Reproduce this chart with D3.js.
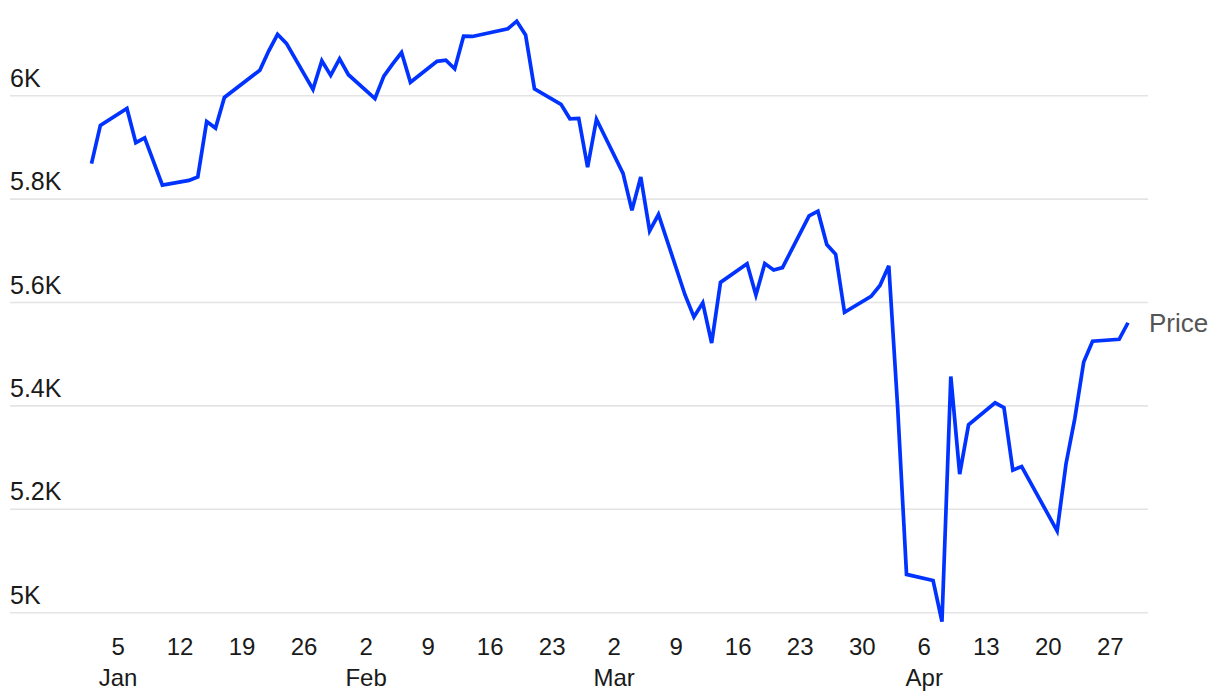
<!DOCTYPE html>
<html>
<head>
<meta charset="utf-8">
<script src="https://cdn.jsdelivr.net/npm/d3@7"></script>
<style>
  html, body { margin: 0; padding: 0; background: #ffffff; }
  svg { display: block; }
  text { font-family: "Liberation Sans", Arial, Helvetica, sans-serif; }
</style>
</head>
<body>
<svg id="chart" width="1220" height="700"></svg>
<script>
// ---- data ----
const dates = [
  "2025-01-02","2025-01-03","2025-01-06","2025-01-07","2025-01-08","2025-01-10",
  "2025-01-13","2025-01-14","2025-01-15","2025-01-16","2025-01-17","2025-01-21",
  "2025-01-22","2025-01-23","2025-01-24","2025-01-27","2025-01-28","2025-01-29",
  "2025-01-30","2025-01-31","2025-02-03","2025-02-04","2025-02-05","2025-02-06",
  "2025-02-07","2025-02-10","2025-02-11","2025-02-12","2025-02-13","2025-02-14",
  "2025-02-18","2025-02-19","2025-02-20","2025-02-21","2025-02-24","2025-02-25",
  "2025-02-26","2025-02-27","2025-02-28","2025-03-03","2025-03-04","2025-03-05",
  "2025-03-06","2025-03-07","2025-03-10","2025-03-11","2025-03-12","2025-03-13",
  "2025-03-14","2025-03-17","2025-03-18","2025-03-19","2025-03-20","2025-03-21",
  "2025-03-24","2025-03-25","2025-03-26","2025-03-27","2025-03-28","2025-03-31",
  "2025-04-01","2025-04-02","2025-04-03","2025-04-04","2025-04-07","2025-04-08",
  "2025-04-09","2025-04-10","2025-04-11","2025-04-14","2025-04-15","2025-04-16",
  "2025-04-17","2025-04-21","2025-04-22","2025-04-23","2025-04-24","2025-04-25",
  "2025-04-28","2025-04-29"
];
const prices = [
  5868.55,5942.47,5975.38,5909.03,5918.25,5827.04,
  5836.22,5842.91,5949.91,5937.34,5996.66,6049.24,
  6086.37,6118.71,6101.24,6012.28,6067.70,6039.31,
  6071.17,6040.53,5994.57,6037.88,6061.48,6083.57,
  6025.99,6066.44,6068.50,6051.97,6115.07,6114.63,
  6129.58,6144.15,6117.52,6013.13,5983.25,5955.25,
  5956.06,5861.57,5954.50,5849.72,5778.15,5842.63,
  5738.52,5770.20,5614.56,5572.07,5599.30,5521.52,
  5638.94,5675.12,5614.66,5675.29,5662.89,5667.56,
  5767.57,5776.65,5712.20,5693.31,5580.94,5611.85,
  5633.07,5670.97,5396.52,5074.08,5062.25,4982.77,
  5456.90,5268.05,5363.36,5405.97,5396.63,5275.70,
  5282.70,5158.20,5287.76,5375.86,5484.77,5525.21,
  5528.75,5560.83
];
const seriesName = "Price";
const yTicks = [5000, 5200, 5400, 5600, 5800, 6000];
const yTickLabels = ["5K", "5.2K", "5.4K", "5.6K", "5.8K", "6K"];
const monthLabels = ["Jan", "Feb", "Mar", "Apr"];

// ---- chart ----
const svg = d3.select("#chart");
const parse = d3.utcParse("%Y-%m-%d");
const data = dates.map((d, i) => ({ date: parse(d), value: prices[i] }));

const x = d3.scaleUtc()
  .domain(d3.extent(data, d => d.date))
  .range([91.5, 1128]);
const y = d3.scaleLinear()
  .domain([5000, 6000])
  .range([612.7, 95.7]);

const gridLeft = 10, gridRight = 1148;

// gridlines + y labels
const gy = svg.append("g");
gy.selectAll("line").data(yTicks).join("line")
  .attr("x1", gridLeft).attr("x2", gridRight)
  .attr("y1", d => y(d)).attr("y2", d => y(d))
  .attr("stroke", "#e4e4e4").attr("stroke-width", 1.6);
gy.selectAll("text").data(yTicks).join("text")
  .attr("x", gridLeft)
  .attr("y", d => y(d) - 9)
  .attr("font-size", 25)
  .attr("fill", "#1a1a1a")
  .text((d, i) => yTickLabels[i]);

// x axis ticks (weekly, Sundays)
const xTicks = d3.utcSunday.range(x.domain()[0], d3.utcDay.offset(x.domain()[1], 1));
const gx = svg.append("g");
gx.selectAll("text.day").data(xTicks).join("text")
  .attr("class", "day")
  .attr("x", d => x(d))
  .attr("y", 655)
  .attr("text-anchor", "middle")
  .attr("font-size", 24)
  .attr("fill", "#1a1a1a")
  .text(d => d.getUTCDate());
const firstTicks = xTicks.filter((d, i) => i === 0 || d.getUTCMonth() !== xTicks[i - 1].getUTCMonth());
gx.selectAll("text.month").data(firstTicks).join("text")
  .attr("class", "month")
  .attr("x", d => x(d))
  .attr("y", 686)
  .attr("text-anchor", "middle")
  .attr("font-size", 24)
  .attr("fill", "#1a1a1a")
  .text(d => monthLabels[d.getUTCMonth()]);

// line
const line = d3.line().x(d => x(d.date)).y(d => y(d.value));
svg.append("path")
  .datum(data)
  .attr("d", line)
  .attr("fill", "none")
  .attr("stroke", "#0033ff")
  .attr("stroke-width", 3.7)
  .attr("stroke-linejoin", "miter")
  .attr("stroke-linecap", "butt");

// series label at end
const last = data[data.length - 1];
svg.append("text")
  .attr("x", x(last.date) + 21)
  .attr("y", y(last.value) + 2)
  .attr("dominant-baseline", "middle")
  .attr("font-size", 26)
  .attr("fill", "#555555")
  .text(seriesName);
</script>
</body>
</html>
